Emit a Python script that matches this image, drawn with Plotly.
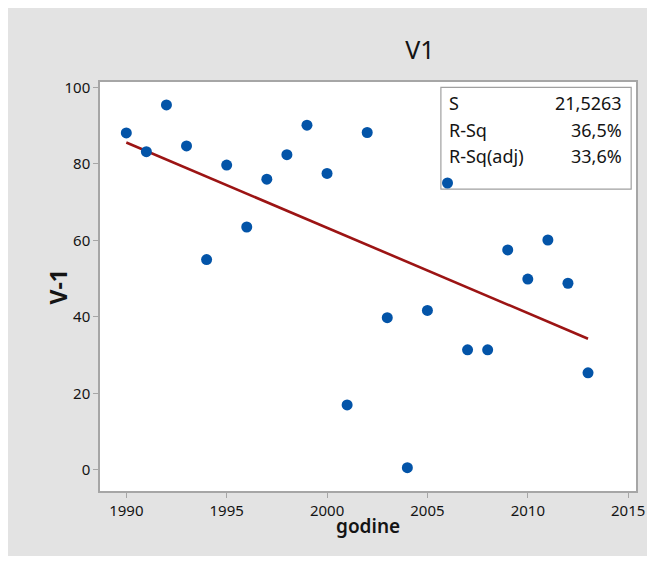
import plotly.graph_objects as go

# data
years = [1990, 1991, 1992, 1993, 1994, 1995, 1996, 1997, 1998, 1999, 2000, 2001,
         2002, 2003, 2004, 2005, 2006, 2007, 2008, 2009, 2010, 2011, 2012, 2013]
v1 = [88.1, 83.2, 95.4, 84.7, 55.0, 79.7, 63.5, 76.0, 82.4, 90.1, 77.5, 17.0,
      88.2, 39.8, 0.6, 41.7, 75.0, 31.4, 31.4, 57.5, 49.9, 60.1, 48.8, 25.4]

# fitted regression line (endpoints)
fit_years = [1990, 2013]
fit_values = [85.6, 34.3]

stat_labels = ["S", "R-Sq", "R-Sq(adj)"]
stat_values = ["21,5263", "36,5%", "33,6%"]

x_ticks = [1990, 1995, 2000, 2005, 2010, 2015]
y_ticks = [0, 20, 40, 60, 80, 100]

FONT = "Noto Sans"
TXT = "#141414"
GRID = "#a6a6a6"

fig = go.Figure()
fig.add_trace(go.Scatter(x=fit_years, y=fit_values, mode="lines",
                         line=dict(color="#9c1414", width=2.6), hoverinfo="skip"))
fig.add_trace(go.Scatter(x=years, y=v1, mode="markers",
                         marker=dict(color="#0354a8", size=11)))

# stats box
fig.add_shape(type="rect", xref="paper", yref="paper", x0=0.636, x1=0.991, y0=0.738, y1=0.987,
              fillcolor="white", line=dict(color="#a0a0a0", width=1.2), layer="below")
row_y = [0.9487, 0.8826, 0.819]
for lab, val, yy in zip(stat_labels, stat_values, row_y):
    fig.add_annotation(x=0.6476, y=yy, xref="paper", yref="paper", text=lab, showarrow=False,
                       xanchor="left", yanchor="middle", font=dict(family=FONT, size=18, color=TXT))
    fig.add_annotation(x=0.978, y=yy, xref="paper", yref="paper", text=val, showarrow=False,
                       xanchor="right", yanchor="middle", font=dict(family=FONT, size=18, color=TXT))

# axis titles
fig.add_annotation(x=-0.112, y=0.5, xref="paper", yref="paper", text="<b>V-1</b>", textangle=-90,
                   showarrow=False, font=dict(family=FONT, size=23, color=TXT))
fig.add_annotation(x=0.5, y=-0.1215, xref="paper", yref="paper", text="godine",
                   showarrow=False, font=dict(family=FONT, size=19, color=TXT, weight=600))

fig.update_layout(
    width=639, height=548,
    margin=dict(l=92, r=11, t=74, b=65),
    paper_bgcolor="#e3e3e3", plot_bgcolor="white",
    showlegend=False,
    title=dict(text="V1", x=412 / 639, xref="container", y=1 - 42 / 548, yref="container",
               xanchor="center", yanchor="middle", font=dict(family=FONT, size=25, color=TXT)),
    font=dict(family=FONT, size=14, color=TXT),
)
fig.update_xaxes(range=[1988.69, 2015.39], tickvals=x_ticks, showgrid=False, zeroline=False,
                 showline=True, mirror=True, linecolor=GRID, linewidth=1.5,
                 ticks="outside", ticklen=5, tickcolor=GRID, tickfont=dict(size=15),
                 ticklabeloverflow="allow", automargin=False)
fig.update_yaxes(range=[-5.5, 101.4], tickvals=y_ticks, showgrid=False, zeroline=False,
                 showline=True, mirror=True, linecolor=GRID, linewidth=1.5,
                 ticks="outside", ticklen=5, tickcolor=GRID, tickfont=dict(size=15),
                 automargin=False)

fig.write_html("out.html")
